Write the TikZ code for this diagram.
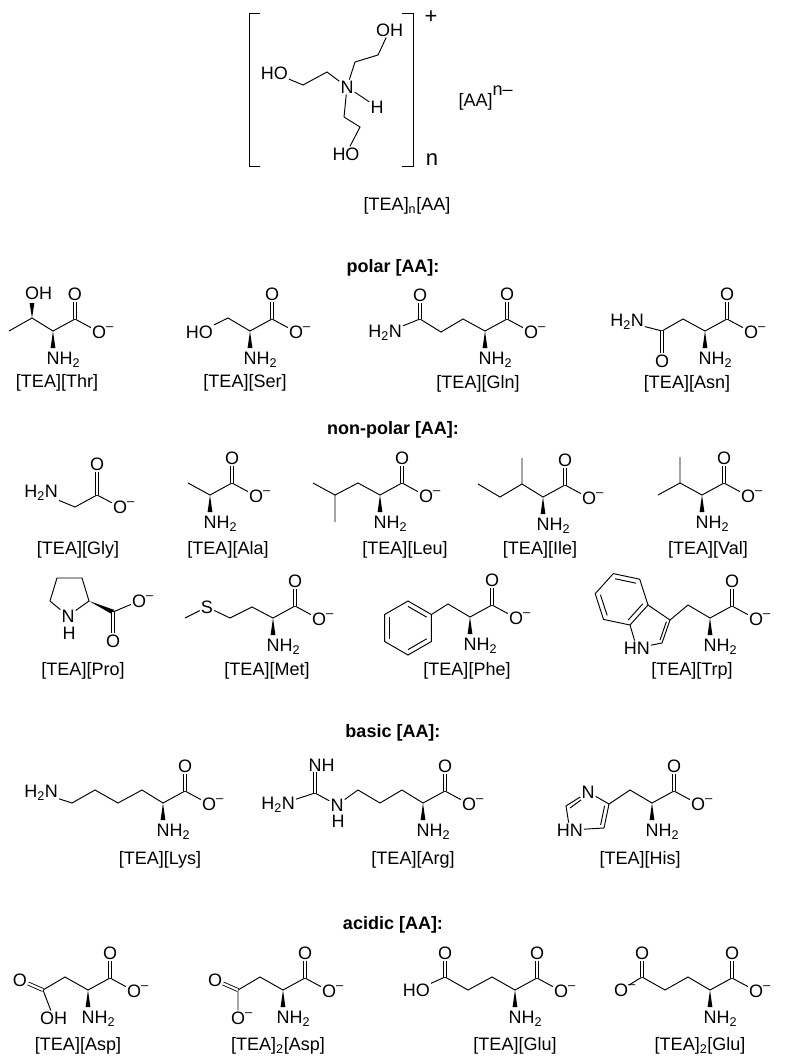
\documentclass[tikz,border=0pt]{standalone}
\usepackage{fontspec}
\setmainfont{Liberation Sans}
\usetikzlibrary{calc}
\newcommand\fsz{\fontsize{18}{20}\selectfont}
\newcommand\Om{O\rlap{\raisebox{0.42em}{\fontsize{13}{13}\selectfont –}}}
\newcommand\HHN{H\textsubscript{2}N}
\newcommand\NHH{NH\textsubscript{2}}
\tikzset{
    x={1pt},
    y={-1pt},
    bond/.style={line width=0.95pt},
    dbond/.style={line width=0.85pt, double, double distance=2.2pt},
    atom/.style={font=\fsz, inner sep=1pt},
    salt/.style={font=\fsz},
    head/.style={font=\bfseries\fsz},
}
% wedge bond, narrow at #1, wide at #2
\newcommand\wedgebond[2]{\fill ($(#1)$) -- ($(#2)!2.4pt!90:(#1)$) -- ($(#2)!2.4pt!-90:(#1)$) -- cycle;}
% inner line of a ring double bond, #3 = ring centre
\newcommand\ringdbl[3]{\draw[bond] ($(#1)!0.2!(#3)$) -- ($(#2)!0.2!(#3)$);}
% alpha carbon with carboxylate and amine
\newcommand\aacore[3]{%
    \coordinate (#1a) at (#2,#3);
    \coordinate (#1c) at ($(#1a)+(22,-12)$);
    \node[atom] (#1o) at ($(#1a)+(22,-37)$) {O};
    \node[atom] (#1om) at ($(#1a)+(46,1)$) {\Om};
    \draw[bond] (#1a) -- (#1c) -- (#1om);
    \draw[dbond] (#1c) -- (#1o);
    \coordinate (#1w) at ($(#1a)+(0,17)$);
    \wedgebond{#1a}{#1w}
    \node[atom, anchor=west] (#1n) at ($(#1a)+(-7.5,29)$) {\NHH};
}
\begin{document}
\begin{tikzpicture}
\useasboundingbox (0,0) rectangle (787,1063);
% cation
\draw[bond] (260,13) -- (249,13) -- (249,166) -- (260,166);
\draw[bond] (402,13) -- (413,13) -- (413,166) -- (402,166);
\node[atom] (plus) at (431,17) {\fontsize{22}{22}\selectfont +};
\node[atom] (nn) at (432,160) {\fontsize{22}{22}\selectfont n};
\node[atom] (teaN) at (347,87) {N};
\node[atom] (teaH) at (377,107) {H};
\node[atom, anchor=east] (teaO1) at (289,73) {HO};
\node[atom, anchor=west] (teaO2) at (375,30) {OH};
\node[atom] (teaO3) at (346,154) {HO};
\draw[bond] (teaN) -- (teaH);
\draw[bond] (teaO1) -- (303,85) -- (327,72) -- (teaN);
\draw[bond] (teaN) -- (355,62) -- (378,55) -- (teaO2);
\draw[bond] (teaN) -- (344,117) -- (360,127) -- (teaO3);
\node[salt, anchor=west] (anion) at (455,98) {[AA]\raisebox{0.65em}{n–}};
\node[salt] (ilname) at (407,206) {[TEA]\textsubscript{n}[AA]};
% polar
\node[head] (hpolar) at (393,268) {polar [AA]:};
\aacore{thr}{53}{331}
\coordinate (thrb) at (32,318);
\coordinate (thrm) at (9,331);
\draw[bond] (thrm) -- (thrb) -- (thra);
\coordinate (thrw2) at (32,303);
\wedgebond{thrb}{thrw2}
\node[atom, anchor=west] (throh) at (24,293) {OH};
\node[salt] (lthr) at (57,383) {[TEA][Thr]};
\aacore{ser}{250}{331}
\coordinate (serb) at (228,318);
\node[atom, anchor=east] (serho) at (214,332) {HO};
\draw[bond] (serho) -- (serb) -- (sera);
\node[salt] (lser) at (245,383) {[TEA][Ser]};
\aacore{gln}{485}{331}
\coordinate (glnb) at (463,319);
\coordinate (glng) at (441,332);
\coordinate (glnd) at (420,319);
\node[atom] (glnod) at (420,295) {O};
\node[atom, anchor=east] (glnn2) at (403,333) {\HHN};
\draw[bond] (glnn2) -- (glnd) -- (glng) -- (glnb) -- (glna);
\draw[dbond] (glnd) -- (glnod);
\node[salt] (lgln) at (478,384) {[TEA][Gln]};
\aacore{asn}{705}{331}
\coordinate (asnb) at (683,319);
\coordinate (asng) at (662,331);
\node[atom] (asnog) at (662,361) {O};
\node[atom, anchor=east] (asnn2) at (645,322) {\HHN};
\draw[bond] (asnn2) -- (asng) -- (asnb) -- (asna);
\draw[dbond] (asng) -- (asnog);
\node[salt] (lasn) at (687,384) {[TEA][Asn]};
% non-polar
\node[head] (hnonpolar) at (393,430) {non-polar [AA]:};
\node[atom, anchor=east] (glyn) at (59,493) {\HHN};
\coordinate (glya) at (75,507);
\coordinate (glyc) at (97,495);
\node[atom] (glyo) at (97,464) {O};
\node[atom] (glyom) at (120,507) {\Om};
\draw[bond] (glyn) -- (glya) -- (glyc) -- (glyom);
\draw[dbond] (glyc) -- (glyo);
\node[salt] (lgly) at (78,550) {[TEA][Gly]};
\aacore{ala}{210}{495}
\coordinate (alab) at (188,483);
\draw[bond] (alab) -- (alaa);
\node[salt] (lala) at (228,550) {[TEA][Ala]};
\aacore{leu}{380}{495}
\draw[bond] (leua) -- (358,483) -- (335,495) -- (313,483) (335,495) -- (335,522);
\node[salt] (lleu) at (405,550) {[TEA][Leu]};
\aacore{ile}{543}{497}
\draw[bond] (ilea) -- (522,484) -- (500,497) -- (478,484) (522,484) -- (522,458);
\node[salt] (lile) at (540,550) {[TEA][Ile]};
\aacore{val}{702}{495}
\draw[bond] (vala) -- (680,483) -- (658,495) (680,483) -- (680,457);
\node[salt] (lval) at (708,550) {[TEA][Val]};
% proline
\node[atom] (pron) at (68,616) {N};
\node[atom] (proh) at (69,633) {H};
\coordinate (pro5) at (50,601);
\coordinate (pro4) at (57,578);
\coordinate (pro3) at (82,578);
\coordinate (proa) at (89,601);
\coordinate (proc) at (113,612);
\draw[bond] (pron) -- (pro5) -- (pro4) -- (pro3) -- (proa) -- (pron);
\wedgebond{proa}{proc}
\node[atom] (proom) at (139,601) {\Om};
\node[atom] (proo) at (113,641) {O};
\draw[bond] (proc) -- (proom);
\draw[dbond] (proc) -- (proo);
\node[salt] (lpro) at (83,671) {[TEA][Pro]};
\aacore{met}{273}{618}
\node[atom] (mets) at (207,607) {S};
\draw[bond] (meta) -- (252,607) -- (230,618) -- (mets) -- (185,618);
\node[salt] (lmet) at (267,671) {[TEA][Met]};
\aacore{phe}{470}{617}
\coordinate (pheb) at (448,604);
\coordinate (phec) at (408,628);
\coordinate (phe1) at (431.4,614.5);
\coordinate (phe2) at (431.4,641.5);
\coordinate (phe3) at (408,655);
\coordinate (phe4) at (384.6,641.5);
\coordinate (phe5) at (384.6,614.5);
\coordinate (phe6) at (408,601);
\draw[bond] (phea) -- (pheb) -- (phe1);
\draw[bond] (phe1) -- (phe2) -- (phe3) -- (phe4) -- (phe5) -- (phe6) -- cycle;
\ringdbl{phe2}{phe3}{phec}
\ringdbl{phe4}{phe5}{phec}
\ringdbl{phe6}{phe1}{phec}
\node[salt] (lphe) at (467,671) {[TEA][Phe]};
\aacore{trp}{710}{618}
\coordinate (trpb) at (688,605);
\coordinate (trp3) at (670,620);
\coordinate (trp2) at (662,643);
\node[atom, anchor=east] (trpn) at (651,648) {HN};
\coordinate (trp7a) at (630,625);
\coordinate (trp3a) at (648,605);
\coordinate (trpq) at (652,628);
\coordinate (trpc) at (621.6,599.3);
\coordinate (trp4) at (639.7,579.2);
\coordinate (trp5) at (613.3,573.6);
\coordinate (trp6) at (595.2,593.7);
\coordinate (trp7) at (603.5,619.4);
\draw[bond] (trpa) -- (trpb) -- (trp3) -- (trp2) -- (trpn) -- (trp7a) -- (trp3a) -- (trp3);
\draw[bond] (trp3a) -- (trp4) -- (trp5) -- (trp6) -- (trp7) -- (trp7a);
\ringdbl{trp2}{trp3}{trpq}
\ringdbl{trp3a}{trp7a}{trpc}
\ringdbl{trp4}{trp5}{trpc}
\ringdbl{trp6}{trp7}{trpc}
\node[salt] (ltrp) at (692,671) {[TEA][Trp]};
% basic
\node[head] (hbasic) at (393,733) {basic [AA]:};
\aacore{lys}{163}{803}
\node[atom, anchor=east] (lysn) at (59,793) {\HHN};
\draw[bond] (lysn) -- (72,803) -- (95,790) -- (118,803) -- (142,790) -- (lysa);
\node[salt] (llys) at (160,860) {[TEA][Lys]};
\aacore{arg}{423}{803}
\node[atom, anchor=east] (argn2) at (296,805) {\HHN};
\coordinate (argg) at (315,793);
\node[atom, anchor=west] (argnh) at (307.5,765) {NH};
\node[atom] (argn) at (337,805) {N};
\node[atom] (argh) at (338,821) {H};
\draw[bond] (argn2) -- (argg) -- (argn) -- (358,790) -- (380,803) -- (402,790) -- (arga);
\draw[dbond] (argg) -- ($(argnh.south west)+(7.5,0)$);
\node[salt] (larg) at (413,860) {[TEA][Arg]};
\aacore{his}{652}{803}
\coordinate (hisb) at (630,790);
\coordinate (his4) at (609,804);
\node[atom] (hisn3) at (588,792) {N};
\coordinate (his2) at (566,806);
\node[atom, anchor=east] (hisn1) at (584,830) {HN};
\coordinate (his5) at (604,828);
\coordinate (hisq) at (587,813);
\draw[bond] (hisa) -- (hisb) -- (his4) -- (hisn3) -- (his2) -- (hisn1) -- (his5) -- (his4);
\draw[bond] (570,808) -- (581,800);
\ringdbl{his4}{his5}{hisq}
\node[salt] (lhis) at (640,860) {[TEA][His]};
% acidic
\node[head] (hacidic) at (393,925) {acidic [AA]:};
\aacore{asp}{88}{990}
\coordinate (aspb) at (65,977);
\coordinate (aspg) at (43,990);
\node[atom] (aspog) at (20,980) {O};
\node[atom, anchor=west] (asph) at (39,1018) {OH};
\draw[bond] (aspa) -- (aspb) -- (aspg) -- (asph);
\draw[dbond] (aspg) -- (aspog);
\node[salt] (lasp) at (78,1046) {[TEA][Asp]};
\aacore{asq}{283}{990}
\coordinate (asqb) at (260,977);
\coordinate (asqg) at (238,990);
\node[atom] (asqog) at (215,980) {O};
\node[atom] (asqom2) at (238,1018) {\Om};
\draw[bond] (asqa) -- (asqb) -- (asqg) -- (asqom2);
\draw[dbond] (asqg) -- (asqog);
\node[salt] (lasq) at (278,1046) {[TEA]\textsubscript{2}[Asp]};
\aacore{glu}{515}{990}
\coordinate (glub) at (492,977);
\coordinate (glug) at (468,990);
\coordinate (glud) at (445,977);
\node[atom] (gluod) at (445,953) {O};
\node[atom, anchor=east] (gluh) at (431,990) {HO};
\draw[bond] (glua) -- (glub) -- (glug) -- (glud) -- (gluh);
\draw[dbond] (glud) -- (gluod);
\node[salt] (lglu) at (515,1046) {[TEA][Glu]};
\aacore{glv}{710}{990}
\coordinate (glvb) at (688,977);
\coordinate (glvg) at (665,990);
\coordinate (glvd) at (642,977);
\node[atom] (glvod) at (642,953) {O};
\node[atom] (glvom2) at (621,990) {\Om};
\draw[bond] (glva) -- (glvb) -- (glvg) -- (glvd) -- (glvom2);
\draw[dbond] (glvd) -- (glvod);
\node[salt] (lglv) at (700,1046) {[TEA]\textsubscript{2}[Glu]};
\end{tikzpicture}
\end{document}
